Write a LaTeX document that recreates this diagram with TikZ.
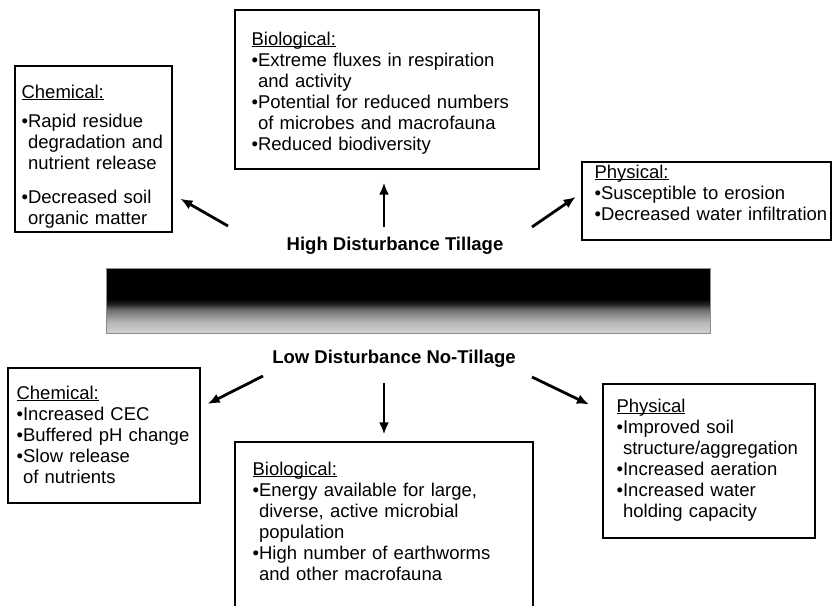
\documentclass[tikz,border=0pt]{standalone}
\usepackage{fontspec}
\setmainfont{Liberation Sans}
\usetikzlibrary{arrows.meta}

\newcommand{\bul}{\textbullet}
\newcommand{\ibul}{\hphantom{\textbullet}}
\newcommand{\hdg}[1]{\setbox0\hbox{#1}\rlap{\rule[-2.4pt]{\wd0}{1.2pt}}\box0}

% dark top, grey lower edge
\pgfdeclareverticalshading{barshade}{100bp}{color(0bp)=(black!18); color(25bp)=(black!18); color(33bp)=(black!28); color(38bp)=(black!42); color(43bp)=(black!58); color(47bp)=(black!85); color(51bp)=(black); color(100bp)=(black)}

\begin{document}
\begin{tikzpicture}[x=1pt, y=-1pt, line width=1.2pt,
    box/.style={draw, line width=1.2pt, inner sep=0pt},
    txt/.style={align=left, text width=295pt, inner sep=0pt, anchor=base west,
                font=\fontsize{18.5}{21}\selectfont},
    lbl/.style={inner sep=0pt, anchor=base,
                font=\fontsize{18.5}{21}\selectfont\bfseries},
    arr/.style={-{Latex[length=12pt,width=10pt]}, line width=2.8pt}]

    \useasboundingbox (0,0) rectangle (834,605);
    \clip (0,0) rectangle (834,605);
    \fill[white] (0,0) rectangle (834,605);

    % boxes
    \node[box, minimum width=157pt, minimum height=166pt] (chemtop) at (93.5,149) {};
    \node[box, minimum width=304pt, minimum height=159pt] (biotop) at (387,89.5) {};
    \node[box, minimum width=249pt, minimum height=78pt] (phystop) at (706.5,201) {};
    \node[box, minimum width=192pt, minimum height=135pt] (chembot) at (104,435.5) {};
    \node[box, minimum width=298pt, minimum height=180pt] (biobot) at (384,532) {};
    \node[box, minimum width=212pt, minimum height=154pt] (physbot) at (709,461) {};

    % the band in the middle
    \node[shade, shading=barshade, draw=black!45, line width=0.6pt,
          minimum width=604pt, minimum height=65pt, inner sep=0pt] (bar) at (408,300.5) {};

    \node[lbl] (hi) at (395,250) {High Disturbance Tillage};
    \node[lbl] (lo) at (394,363) {Low Disturbance No-Tillage};

    % texts
    \node[txt] (chemtop-t) at (21,98) {\hdg{Chemical:}\\[8pt]
        \bul Rapid residue\\ \ibul degradation and\\ \ibul nutrient release\\[13pt]
        \bul Decreased soil\\ \ibul organic matter};
    \node[txt] (biotop-t) at (251,45) {\hdg{Biological:}\\
        \bul Extreme fluxes in respiration\\ \ibul and activity\\
        \bul Potential for reduced numbers\\ \ibul of microbes and macrofauna\\
        \bul Reduced biodiversity};
    \node[txt] (phystop-t) at (594,178) {\hdg{Physical:}\\
        \bul Susceptible to erosion\\ \bul Decreased water infiltration};
    \node[txt] (chembot-t) at (16,399) {\hdg{Chemical:}\\
        \bul Increased CEC\\ \bul Buffered pH change\\
        \bul Slow release\\ \ibul of nutrients};
    \node[txt] (biobot-t) at (252,475) {\hdg{Biological:}\\
        \bul Energy available for large,\\ \ibul diverse, active microbial\\ \ibul population\\
        \bul High number of earthworms\\ \ibul and other macrofauna};
    \node[txt] (physbot-t) at (616,412) {\hdg{Physical}\\
        \bul Improved soil\\ \ibul structure/aggregation\\
        \bul Increased aeration\\ \bul Increased water\\ \ibul holding capacity};

    % arrows
    \coordinate (hi-l) at (228,226);
    \coordinate (hi-m) at (384,227);
    \coordinate (hi-r) at (532,227);
    \coordinate (lo-l) at (263,376);
    \coordinate (lo-m) at (384,383);
    \coordinate (lo-r) at (532,377);

    \draw[arr, shorten >=9pt] (hi-l) -- (chemtop);
    \draw[arr, shorten >=13pt] (hi-m) -- (hi-m |- biotop.south);
    \draw[arr, shorten >=7pt] (hi-r) -- ([yshift=8pt]phystop.west);
    \draw[arr, shorten >=8pt] (lo-l) -- ([yshift=28pt]chembot.east);
    \draw[arr, shorten >=7pt] (lo-m) -- (lo-m |- biobot.north);
    \draw[arr, shorten >=15pt] (lo-r) -- ([yshift=50pt]physbot.west);

\end{tikzpicture}
\end{document}
